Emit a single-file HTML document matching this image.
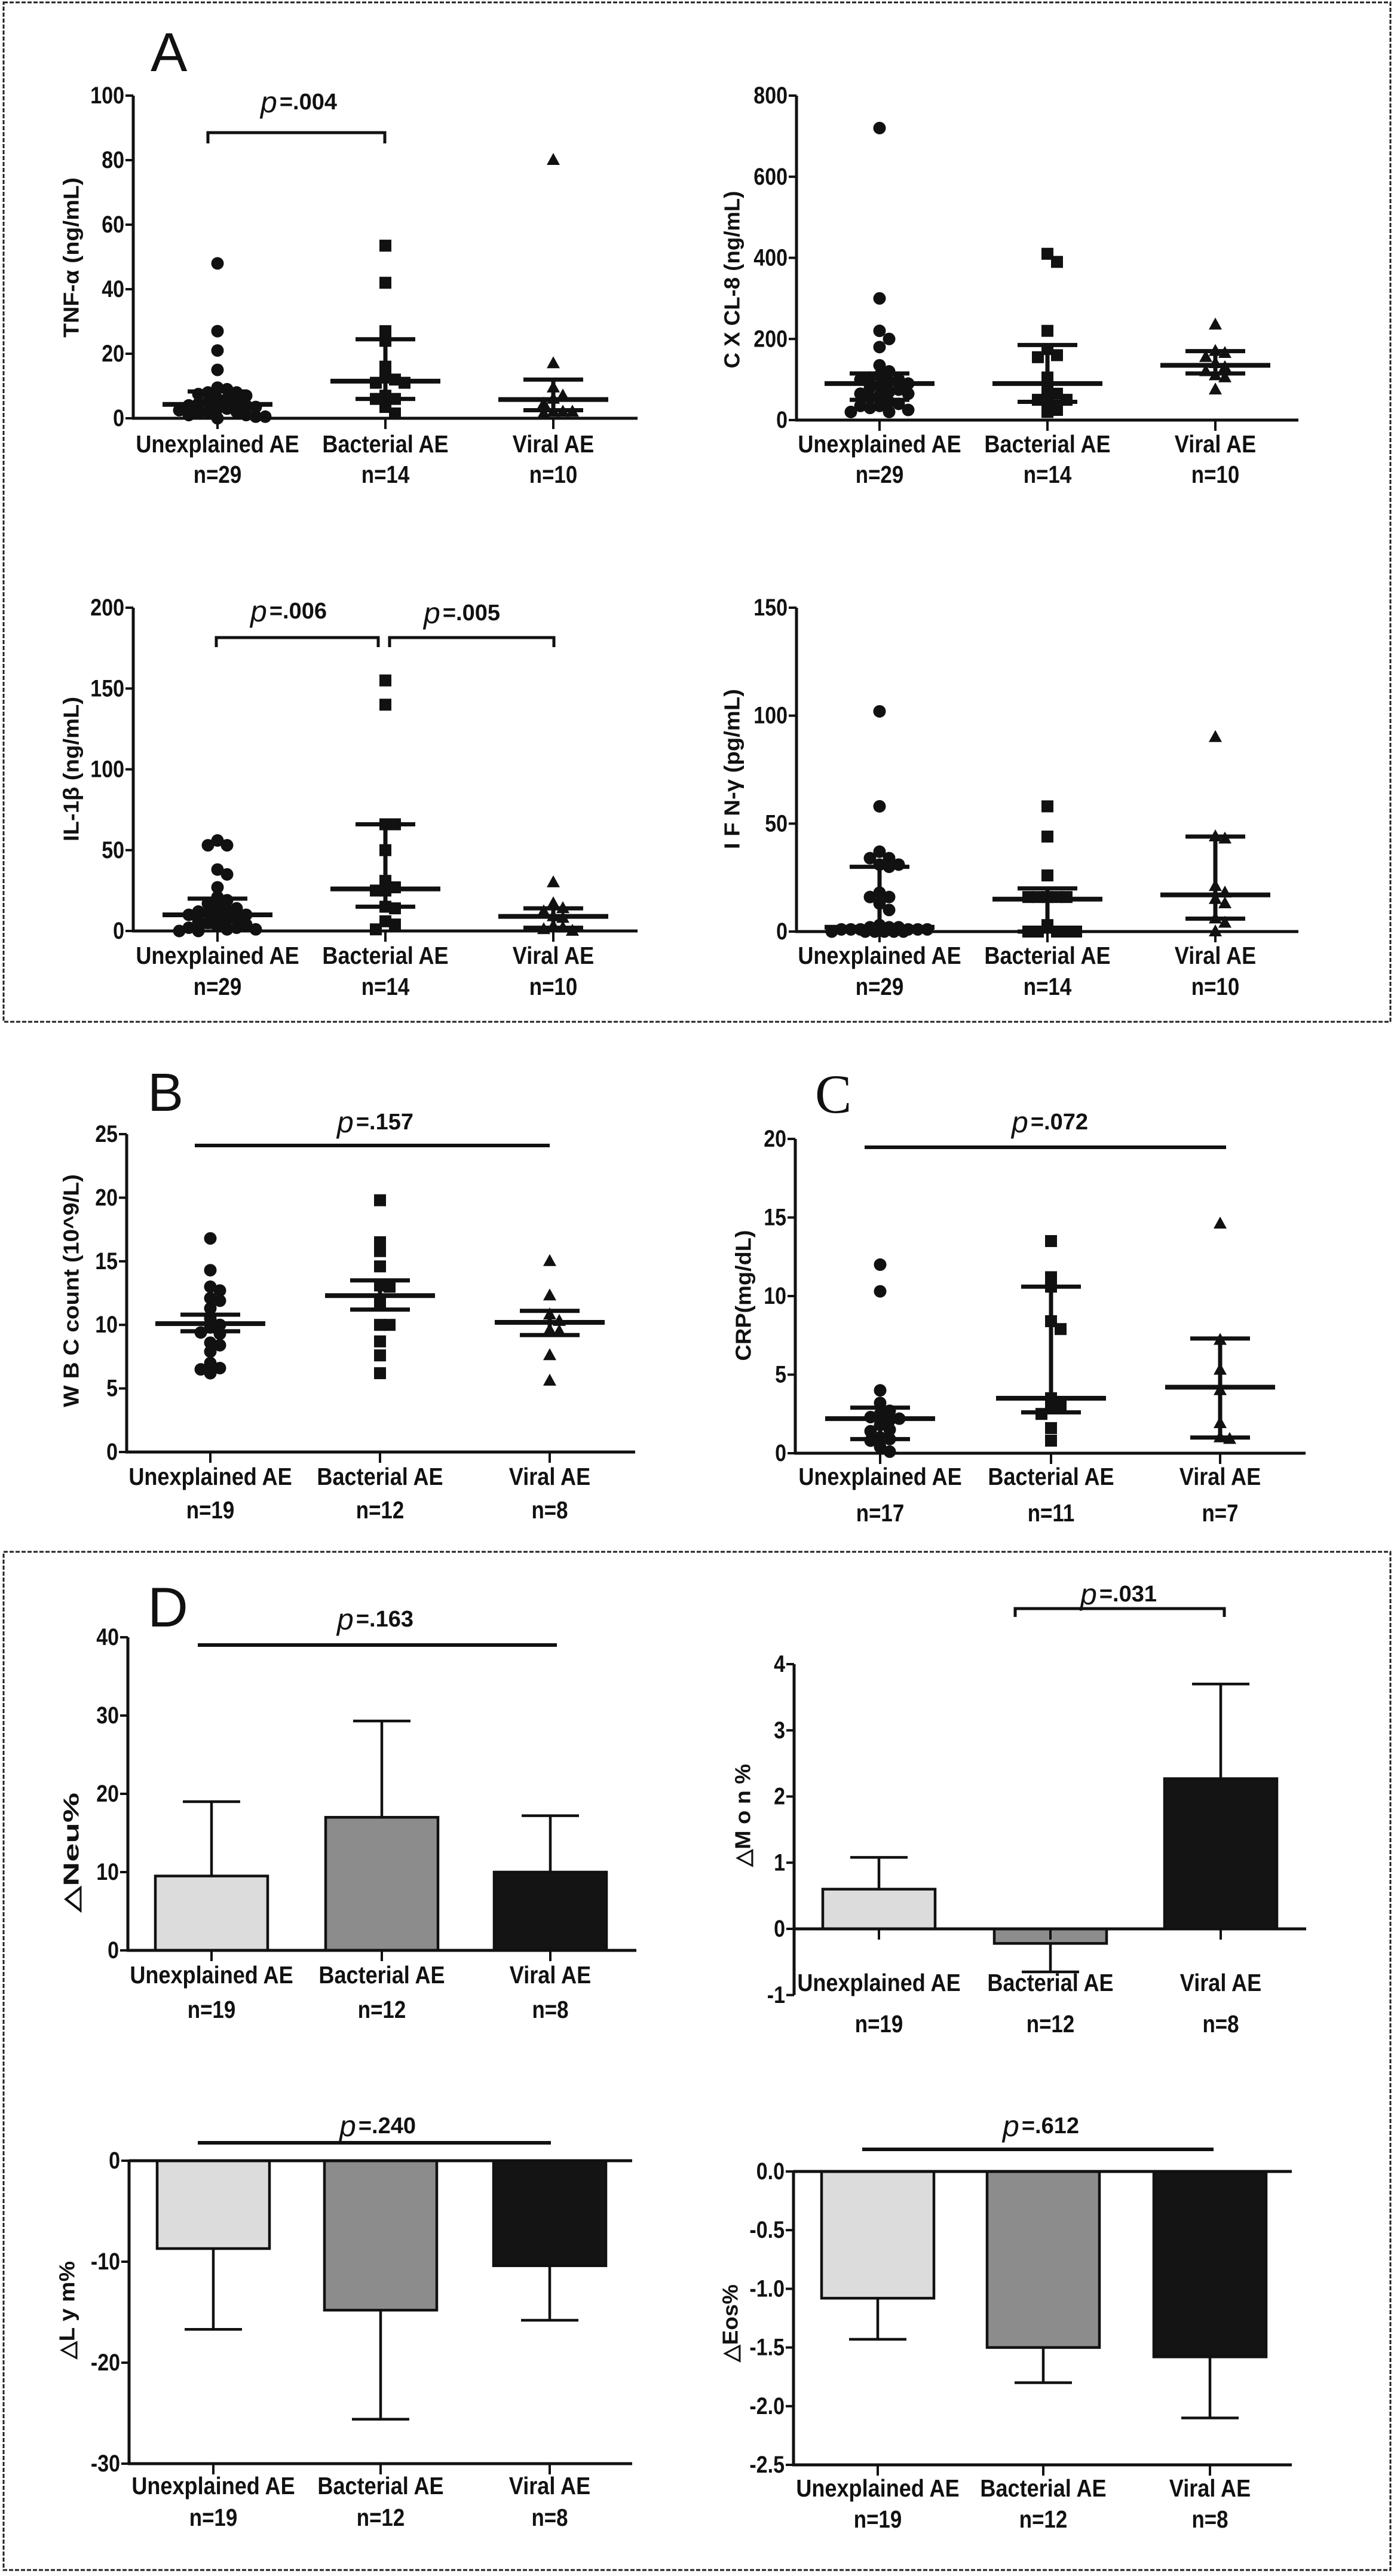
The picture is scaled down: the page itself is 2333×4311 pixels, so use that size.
<!DOCTYPE html>
<html><head><meta charset="utf-8"><title>Cytokines and blood markers by AE type</title>
<style>
html,body{margin:0;padding:0;background:#fff;}
svg{display:block;}
text{font-family:"Liberation Sans",Arial,sans-serif;fill:#111;}
</style></head>
<body>
<svg id="fig" xmlns="http://www.w3.org/2000/svg" width="2333" height="4311" viewBox="0 0 2333 4311">
<rect x="0" y="0" width="2333" height="4311" fill="#fff"/>
<rect x="6" y="4" width="2321" height="1706" fill="none" stroke="#222" stroke-width="3" stroke-dasharray="7,3"/>
<rect x="6" y="2597" width="2321" height="1704" fill="none" stroke="#222" stroke-width="3" stroke-dasharray="7,3"/>
<text x="252" y="119" font-size="92">A</text>
<text x="247" y="1859" font-size="90">B</text>
<text x="1364" y="1862" font-size="92" style="font-family:'Liberation Serif',serif">C</text>
<text x="247" y="2722" font-size="94">D</text>
</svg>
<script>
const groups = ["Unexplained AE","Bacterial AE","Viral AE"];

// TNF-alpha
const tnfNs = ["n=29","n=14","n=10"];
const tnfTicks = [0,20,40,60,80,100];
const tnfUnexplained = [48,27,21,15,9.5,9,8,8,7.5,7,6,6,5,5,4.5,4,4,3.5,3,3,2.5,2,2,1.5,1,1,0.5,0.5,0];
const tnfBacterial = [53.5,42,27,24,16,13,12,11,11,7,6,6,3.5,1.5];
const tnfViral = [80,17,9.5,7,6,4.5,2,2,2,1.5];
const tnfCenter = [4.3,11.5,5.8];
const tnfLow = [2.6,6,2.5];
const tnfHigh = [8.3,24.5,12];

// CXCL-8
const cxclNs = ["n=29","n=14","n=10"];
const cxclTicks = [0,200,400,600,800];
const cxclUnexplained = [720,300,220,200,180,135,120,110,105,100,100,95,90,85,80,75,70,65,65,60,55,45,40,35,35,30,25,20,20];
const cxclBacterial = [410,390,220,175,160,155,105,70,65,50,50,45,25,20];
const cxclViral = [235,165,170,155,140,130,120,110,105,75];
const cxclCenter = [90,90,135];
const cxclLow = [50,45,115];
const cxclHigh = [115,185,170];

// IL-1beta
const il1Ns = ["n=29","n=14","n=10"];
const il1Ticks = [0,50,100,150,200];
const il1Unexplained = [56,53,53,38,35,27,21,19,17,15,14,13,12,11,10,10,9,8,7,6,5,4,3,2,2,1,1,0,0];
const il1Bacterial = [155,140,66,66,50,31,27,25,25,15,14,6,4,1];
const il1Viral = [30,17,14,12,9,8,3,2,1,0];
const il1Center = [10,26,9];
const il1Low = [2.5,15,2];
const il1High = [20,66,14];

// IFN-gamma
const ifnNs = ["n=29","n=14","n=10"];
const ifnTicks = [0,50,100,150];
const ifnUnexplained = [102,58,37,34,34,31,31,30,18,16,16,13,10,3,2,2,2,1,1,1,1,1,1,0,0,0,0,0,0];
const ifnBacterial = [58,44,26,16,16,16,16,16,3,0,0,0,0,0];
const ifnViral = [90,44,43,21,18,15,13,6,4,0];
const ifnCenter = [2,15,17];
const ifnLow = [1,0,6];
const ifnHigh = [30,20,44];

// WBC
const wbcNs = ["n=19","n=12","n=8"];
const wbcTicks = [0,5,10,15,20,25];
const wbcUnexplained = [16.8,14.3,13,12.7,12.1,11.9,11.3,10.5,10,9.8,9.4,9.3,8.6,8.4,7.9,7,6.6,6.5,6.2];
const wbcBacterial = [19.8,16.5,15.8,14.6,13.1,13,11.8,10,10,8.7,7.6,6.2];
const wbcViral = [15,12.3,10.8,10.3,9.6,9.5,7.6,5.6];
const wbcCenter = [10.1,12.3,10.2];
const wbcLow = [9.5,11.2,9.2];
const wbcHigh = [10.8,13.5,11.1];

// CRP
const crpNs = ["n=17","n=11","n=7"];
const crpTicks = [0,5,10,15,20];
const crpUnexplained = [12,10.3,4,3.2,2.7,2.5,2.3,2.2,2.1,1.8,1.5,1.4,1,0.9,0.8,0.4,0.1];
const crpBacterial = [13.5,11.2,10.6,8.4,7.9,3.5,3,2.9,2.5,1.6,0.8];
const crpViral = [14.6,7.2,5.3,4,1.9,1,0.9];
const crpCenter = [2.2,3.5,4.2];
const crpLow = [0.9,2.6,1];
const crpHigh = [2.9,10.6,7.3];

// Bar charts (D)
const barNs = ["n=19","n=12","n=8"];
const neuTicks = [0,10,20,30,40];
const neuMeans = [9.5,17,10];
const neuErrEnds = [19,29.3,17.2];
const monTicks = [-1,0,1,2,3,4];
const monMeans = [0.6,-0.22,2.27];
const monErrEnds = [1.08,-0.65,3.7];
const lymTicks = [0,-10,-20,-30];
const lymMeans = [-8.7,-14.8,-10.4];
const lymErrEnds = [-16.7,-25.6,-15.8];
const eosTicks = [0,-0.5,-1,-1.5,-2,-2.5];
const eosMeans = [-1.08,-1.5,-1.58];
const eosErrEnds = [-1.43,-1.8,-2.1];

const NS = "http://www.w3.org/2000/svg";
const svg = document.getElementById("fig");
const barFills = ["#dcdcdc","#8c8c8c","#141414"];

function el(tag, attrs, parent){
  const e = document.createElementNS(NS, tag);
  for (const k in attrs) e.setAttribute(k, attrs[k]);
  (parent || svg).appendChild(e);
  return e;
}
function squeeze(t, f){
  const w = t.getComputedTextLength();
  if (w > 0) { t.setAttribute("textLength", (w*f).toFixed(1)); t.setAttribute("lengthAdjust","spacingAndGlyphs"); }
}
function makeScale(cfg){
  return v => cfg.y0 + (v - cfg.v0) * (cfg.y1 - cfg.y0) / (cfg.v1 - cfg.v0);
}
function fmtTick(v, dec){ return dec ? v.toFixed(dec) : String(v); }

function drawYAxis(cfg, ticks, y, g){
  const top = Math.min(y(ticks[0]), y(ticks[ticks.length-1]));
  const bot = Math.max(y(ticks[0]), y(ticks[ticks.length-1]));
  const ax = el("line", {x1:cfg.x, y1:top, x2:cfg.x, y2:bot, stroke:"#111", "stroke-width":5}, g);
  
  
  ticks.forEach(v => {
    const tk = el("line", {x1:cfg.x-13, y1:y(v), x2:cfg.x, y2:y(v), stroke:"#111", "stroke-width":4}, g);
    
    
    const tl = el("text", {x:cfg.x-15, y:y(v), "font-size":40, "font-weight":"bold", "text-anchor":"end", "dominant-baseline":"central"}, g);
    tl.textContent = fmtTick(v, cfg.dec);
    
    
    squeeze(tl, 0.85);
  });
  const tt = el("text", {x:0, y:0, "font-size":36, "font-weight":"bold", "text-anchor":"middle", "dominant-baseline":"central",
    transform:"translate(" + cfg.titleX + "," + cfg.titleY + ") rotate(-90)", textLength:cfg.titleLen, lengthAdjust:"spacingAndGlyphs"}, g);
  tt.textContent = cfg.title;
  
  
}
function drawXAxis(cfg, yLine, ns, g){
  const ax = el("line", {x1:cfg.x-2, y1:yLine, x2:cfg.xEnd, y2:yLine, stroke:"#111", "stroke-width":5}, g);
  
  
  cfg.cats.forEach((cx, i) => {
    const tk = el("line", {x1:cx, y1:yLine, x2:cx, y2:yLine+18, stroke:"#111", "stroke-width":4}, g);
    
    
    const cl = el("text", {x:cx, y:cfg.labY, "font-size":41, "font-weight":"bold", "text-anchor":"middle", "dominant-baseline":"central"}, g);
    cl.textContent = groups[i];
    
    
    squeeze(cl, 0.88);
    const nl = el("text", {x:cx, y:cfg.nY, "font-size":41, "font-weight":"bold", "text-anchor":"middle", "dominant-baseline":"central"}, g);
    nl.textContent = ns[i];
    
    
    squeeze(nl, 0.85);
  });
}
function drawP(x, y, label, g){
  const t = el("text", {x:x, y:y, "text-anchor":"middle", "dominant-baseline":"central"}, g);
  const a = el("tspan", {"font-size":50, "font-style":"italic"}, t);
  a.textContent = "p";
  const b = el("tspan", {"font-size":38, "font-weight":"bold", dx:4}, t);
  b.textContent = "=" + label;
  
  
}
function drawBracket(x1, x2, y, drop, g){
  const d = drop ? "M"+x1+","+(y+drop)+" L"+x1+","+y+" L"+x2+","+y+" L"+x2+","+(y+drop) : "M"+x1+","+y+" L"+x2+","+y;
  const p = el("path", {d:d, fill:"none", stroke:"#111", "stroke-width":drop ? 5 : 6}, g);
  
  
}
function marker(shape, cx, cy, g){
  let m;
  if (shape === "circle") m = el("circle", {cx:cx, cy:cy, r:10.5, fill:"#111"}, g);
  else if (shape === "square") m = el("rect", {x:cx-10, y:cy-10, width:20, height:20, fill:"#111"}, g);
  else m = el("path", {d:"M"+cx+","+(cy-12)+" L"+(cx+11)+","+(cy+8)+" L"+(cx-11)+","+(cy+8)+" Z", fill:"#111"}, g);
  
  
}
function swarm(vals, cx, y, shape, g){
  const placed = [];
  const step = 16;
  const maxK = 10;
  let overflow = 0;
  vals.slice().sort((a,b)=>b-a).forEach(v => {
    const py = y(v);
    let px = cx, found = false;
    for (let k = 0; k <= maxK; k++) {
      const off = k === 0 ? 0 : (k % 2 ? 1 : -1) * Math.ceil(k/2) * step;
      px = cx + off;
      if (!placed.some(p => Math.abs(p[0]-px) < step-1 && Math.abs(p[1]-py) < 14)) { found = true; break; }
    }
    if (!found) {
      const k = overflow % (maxK + 1);
      overflow++;
      px = cx + (k === 0 ? 0 : (k % 2 ? 1 : -1) * Math.ceil(k/2) * step) + 8;
    }
    placed.push([px, py]);
    marker(shape, px, py, g);
  });
}
function drawScatter(name, cfg, ticks, ns, series, center, low, high){
  const g = el("g", {});
  
  
  const y = makeScale(cfg);
  drawYAxis(cfg, ticks, y, g);
  drawXAxis(cfg, y(0), ns, g);
  const shapes = ["circle","square","triangle"];
  series.forEach((vals, i) => swarm(vals, cfg.cats[i], y, shapes[i], g));
  cfg.cats.forEach((cx, i) => {
    const w = el("line", {x1:cx, y1:y(low[i]), x2:cx, y2:y(high[i]), stroke:"#111", "stroke-width":7}, g);
    
    
    [low[i], high[i]].forEach(v => {
      const c = el("line", {x1:cx-50, y1:y(v), x2:cx+50, y2:y(v), stroke:"#111", "stroke-width":7}, g);
      
      
    });
    const m = el("line", {x1:cx-92, y1:y(center[i]), x2:cx+92, y2:y(center[i]), stroke:"#111", "stroke-width":8}, g);
    
    
  });
  return g;
}
function drawBars(name, cfg, ticks, means, errEnds, extraZeroLine){
  const g = el("g", {});
  
  
  const y = makeScale(cfg);
  drawYAxis(cfg, ticks, y, g);
  cfg.cats.forEach((cx, i) => {
    const e = el("line", {x1:cx, y1:y(means[i]), x2:cx, y2:y(errEnds[i]), stroke:"#111", "stroke-width":4.5}, g);
    
    
    const c = el("line", {x1:cx-48, y1:y(errEnds[i]), x2:cx+48, y2:y(errEnds[i]), stroke:"#111", "stroke-width":4.5}, g);
    
    
    const top = Math.min(y(0), y(means[i]));
    const h = Math.abs(y(means[i]) - y(0));
    const b = el("rect", {x:cx-94, y:top, width:188, height:h, fill:barFills[i], stroke:"#111", "stroke-width":4.5}, g);
    
    
  });
  drawXAxis(cfg, y(cfg.axisAt), barNs, g);
  if (extraZeroLine) {
    const z = el("line", {x1:cfg.x, y1:y(0), x2:cfg.xEnd, y2:y(0), stroke:"#111", "stroke-width":5}, g);
    
    
  }
  return g;
}

// ---- Panel A ----
const gTnf = drawScatter("tnf-alpha-chart",
  {x:223, xEnd:1067, y0:700, v0:0, y1:160, v1:100, cats:[364,645,926], labY:743, nY:794, title:"TNF-α  (ng/mL)", titleX:119, titleY:431, titleLen:268},
  tnfTicks, tnfNs, [tnfUnexplained, tnfBacterial, tnfViral], tnfCenter, tnfLow, tnfHigh);
drawBracket(348, 644, 222, 18, gTnf);
drawP(500, 171, ".004", gTnf);

drawScatter("cxcl8-chart",
  {x:1333, xEnd:2173, y0:703, v0:0, y1:160, v1:800, cats:[1472,1753,2034], labY:743, nY:794, title:"C X CL-8 (ng/mL)", titleX:1225, titleY:468, titleLen:297},
  cxclTicks, cxclNs, [cxclUnexplained, cxclBacterial, cxclViral], cxclCenter, cxclLow, cxclHigh);

const gIl1 = drawScatter("il1-beta-chart",
  {x:223, xEnd:1067, y0:1558, v0:0, y1:1017, v1:200, cats:[364,645,926], labY:1599, nY:1651, title:"IL-1β  (ng/mL)", titleX:119, titleY:1287, titleLen:242},
  il1Ticks, il1Ns, [il1Unexplained, il1Bacterial, il1Viral], il1Center, il1Low, il1High);
drawBracket(362, 633, 1067, 16, gIl1);
drawBracket(652, 927, 1067, 16, gIl1);
drawP(483, 1023, ".006", gIl1);
drawP(773, 1026, ".005", gIl1);

drawScatter("ifn-gamma-chart",
  {x:1333, xEnd:2173, y0:1559, v0:0, y1:1017, v1:150, cats:[1472,1753,2034], labY:1599, nY:1651, title:"I F N-γ  (pg/mL)", titleX:1225, titleY:1287, titleLen:268},
  ifnTicks, ifnNs, [ifnUnexplained, ifnBacterial, ifnViral], ifnCenter, ifnLow, ifnHigh);

// ---- Panel B / C ----
const gWbc = drawScatter("wbc-chart",
  {x:212, xEnd:1063, y0:2430, v0:0, y1:1898, v1:25, cats:[352,636,920], labY:2471, nY:2527, title:"W B C count (10^9/L)", titleX:119, titleY:2160, titleLen:390},
  wbcTicks, wbcNs, [wbcUnexplained, wbcBacterial, wbcViral], wbcCenter, wbcLow, wbcHigh);
drawBracket(326, 920, 1917, 0, gWbc);
drawP(628, 1878, ".157", gWbc);

const gCrp = drawScatter("crp-chart",
  {x:1331, xEnd:2185, y0:2432, v0:0, y1:1906, v1:20, cats:[1473,1759,2042], labY:2471, nY:2532, title:"CRP(mg/dL)", titleX:1244, titleY:2168, titleLen:219},
  crpTicks, crpNs, [crpUnexplained, crpBacterial, crpViral], crpCenter, crpLow, crpHigh);
drawBracket(1447, 2052, 1920, 0, gCrp);
drawP(1757, 1878, ".072", gCrp);

// ---- Panel D ----
const gNeu = drawBars("delta-neu-chart",
  {x:214, xEnd:1065, y0:3264, v0:0, y1:2740, v1:40, axisAt:0, cats:[354,639,921], labY:3305, nY:3363, title:"△Neu%", titleX:119, titleY:3100, titleLen:200},
  neuTicks, neuMeans, neuErrEnds, false);
drawBracket(331, 932, 2753, 0, gNeu);
drawP(628, 2710, ".163", gNeu);

const gMon = drawBars("delta-mon-chart",
  {x:1329, xEnd:2186, y0:3228, v0:0, y1:2785, v1:4, axisAt:0, cats:[1471,1758,2043], labY:3318, nY:3387, title:"△M o n %", titleX:1243, titleY:3038, titleLen:172},
  monTicks, monMeans, monErrEnds, false);
drawBracket(1699, 2049, 2692, 14, gMon);
drawP(1872, 2668, ".031", gMon);

const gLym = drawBars("delta-lym-chart",
  {x:216, xEnd:1058, y0:3616, v0:0, y1:4123, v1:-30, axisAt:-30, cats:[357,637,920], labY:4160, nY:4213, title:"△L y m%", titleX:112, titleY:3866, titleLen:164},
  lymTicks, lymMeans, lymErrEnds, true);
drawBracket(331, 922, 3586, 0, gLym);
drawP(632, 3558, ".240", gLym);

const gEos = drawBars("delta-eos-chart",
  {x:1328, xEnd:2162, y0:3634, v0:0, y1:4125, v1:-2.5, axisAt:-2.5, dec:1, cats:[1469,1746,2025], labY:4164, nY:4216, title:"△Eos%", titleX:1222, titleY:3888, titleLen:130},
  eosTicks, eosMeans, eosErrEnds, true);
drawBracket(1443, 2031, 3597, 0, gEos);
drawP(1742, 3558, ".612", gEos);
</script>
</body></html>
